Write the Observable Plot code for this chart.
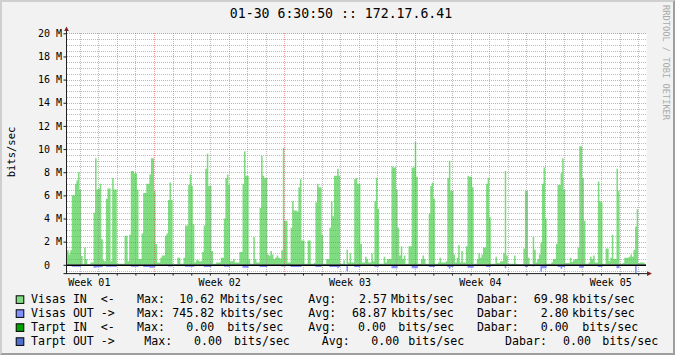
<!DOCTYPE html>
<html>
<head>
<meta charset="utf-8">
<script src="https://cdn.jsdelivr.net/npm/d3@7"></script>
<script src="https://cdn.jsdelivr.net/npm/@observablehq/plot@0.6"></script>
<style>
html, body { margin: 0; padding: 0; background: #f2f2f2; }
#page { position: relative; width: 675px; height: 355px; overflow: hidden; background: #f2f2f2; }
#page svg { position: absolute; left: 0; top: 0; }
#border { position: absolute; left: 0; top: 0; width: 675px; height: 355px; box-sizing: border-box;
  border-style: solid; border-width: 2px; border-color: #cfcfcf #9e9e9e #9e9e9e #cfcfcf; pointer-events: none; }
</style>
</head>
<body>
<div id="page"><div id="border"></div></div>
<script>
// ---- data (Mbits/sec, one value per 2-hour step, starting at day 2.25) ----
const visasIn = [
1.25,1.25,0.9,1.25,6.0,6.0,7.0,7.3,8.0,6.5,0.75,0.1,1.5,0.5,0.05,0.05,0.2,0.2,4.5,9.2,6.5,6.6,7.0,2.2,0.4,
0.3,5.7,6.6,6.6,0.3,7.5,6.5,6.5,0.1,0.1,0.1,0.1,0.1,2.5,2.5,0.3,2.6,8.1,8.1,7.9,7.9,6.5,0.5,0.5,2.7,
6.2,6.2,7.0,7.0,7.8,9.2,9.2,6.4,1.8,0.2,0.2,0.6,0.8,0.8,2.5,2.7,5.6,7.1,5.6,0.05,0.05,0.05,0.6,0.6,0.1,
0.1,0.6,3.4,3.4,6.9,7.8,6.8,3.5,0.2,0.4,0.4,0.3,0.3,1.1,3.4,8.3,9.6,6.8,6.8,1.2,0.1,0.1,0.2,0.2,0.2,
0.6,0.6,4.0,7.5,7.8,6.9,0.3,0.3,0.5,0.2,0.2,0.2,1.1,1.1,7.0,9.8,7.7,7.7,0.5,0.1,0.1,2.4,0.5,0.2,0.2,
4.9,9.4,7.7,7.5,7.5,0.9,0.8,1.2,0.9,0.5,0.6,0.8,0.6,0.55,1.25,10.1,3.8,3.8,0.2,0.2,3.2,5.5,4.7,4.7,4.6,
6.7,7.4,2.1,2.1,0.1,0.1,2.1,2.1,0.1,0.1,0.15,5.4,7.0,6.7,6.7,2.6,0.1,0.1,0.5,0.5,3.2,5.5,4.2,7.7,7.7,
8.3,7.7,0.1,0.1,0.4,0.05,1.3,0.2,1.0,0.2,0.2,7.4,7.5,7.0,7.0,1.8,0.2,0.2,0.7,0.5,0.2,0.2,1.0,0.3,5.5,
7.5,4.85,0.1,0.1,0.1,0.7,0.2,0.5,0.5,0.5,8.5,8.4,8.4,6.5,3.2,0.8,1.6,0.5,0.8,0.1,0.1,1.6,1.6,8.4,8.4,
10.62,7.6,0.1,0.1,0.5,0.8,0.5,0.1,0.1,4.4,6.8,7.1,5.7,0.1,0.1,0.2,0.6,0.2,0.2,0.2,0.3,7.5,9.0,6.4,6.4,
0.9,0.2,0.6,1.7,0.2,1.2,0.2,0.2,1.6,7.7,7.6,7.6,6.7,0.1,0.1,0.5,1.0,0.6,0.9,1.5,1.5,7.0,7.5,4.1,0.1,
0.1,0.1,0.7,0.15,0.15,0.3,0.3,1.0,8.1,0.8,0.1,0.1,0.1,0.1,0.8,0.1,0.05,0.05,0.05,0.05,1.4,6.4,6.4,0.6,0.05,
0.05,2.4,1.3,0.2,0.5,0.9,1.9,7.0,8.4,4.0,0.1,0.1,0.1,0.2,0.5,0.5,1.8,6.9,6.9,7.9,9.2,6.5,0.15,0.15,0.15,
0.6,0.25,0.4,0.5,0.5,1.5,10.25,10.25,7.5,3.8,0.1,0.1,0.2,0.7,0.5,0.8,0.2,0.2,7.2,5.5,5.4,0.1,0.1,1.4,1.4,
0.3,0.6,2.6,0.5,0.5,8.3,6.4,0.1,0.1,0.15,0.6,0.6,0.6,0.7,0.9,0.7,1.3,3.3,4.8,0.15,0.2,0.2,0.2,0.1,0.1
];
const visasOut = [
0.04,0.04,0.04,0.04,0.17,0.17,0.17,0.17,0.17,0.17,0.04,0.04,0.04,0.04,0.04,0.04,0.04,0.04,0.25,0.25,0.22,0.22,0.22,0.2,0.04,
0.04,0.17,0.17,0.17,0.17,0.17,0.17,0.17,0.04,0.04,0.04,0.04,0.04,0.04,0.04,0.04,0.04,0.17,0.17,0.17,0.17,0.17,0.04,0.04,0.04,
0.2,0.2,0.2,0.2,0.25,0.25,0.25,0.2,0.04,0.04,0.04,0.04,0.04,0.04,0.04,0.04,0.15,0.15,0.15,0.04,0.04,0.04,0.04,0.04,0.04,
0.04,0.04,0.17,0.17,0.17,0.17,0.17,0.17,0.04,0.04,0.04,0.04,0.04,0.04,0.2,0.2,0.2,0.2,0.2,0.04,0.04,0.04,0.04,0.04,0.04,
0.04,0.04,0.17,0.17,0.17,0.17,0.04,0.04,0.04,0.04,0.04,0.04,0.04,0.04,0.25,0.25,0.25,0.25,0.04,0.04,0.04,0.04,0.04,0.04,0.04,
0.2,0.2,0.2,0.2,0.2,0.04,0.04,0.04,0.04,0.04,0.04,0.04,0.04,0.04,0.15,0.15,0.15,0.04,0.04,0.04,0.2,0.2,0.2,0.2,0.2,
0.2,0.2,0.04,0.04,0.04,0.04,0.04,0.04,0.04,0.04,0.04,0.2,0.2,0.2,0.2,0.04,0.04,0.04,0.04,0.04,0.2,0.2,0.2,0.2,0.2,
0.3,0.2,0.04,0.04,0.04,0.04,0.55,0.04,0.04,0.04,0.04,0.2,0.2,0.2,0.2,0.04,0.04,0.04,0.04,0.04,0.04,0.04,0.04,0.04,0.17,
0.17,0.17,0.04,0.04,0.04,0.04,0.04,0.04,0.04,0.04,0.3,0.3,0.3,0.3,0.04,0.04,0.04,0.04,0.04,0.04,0.04,0.04,0.04,0.3,0.3,
0.3,0.3,0.04,0.04,0.04,0.04,0.04,0.04,0.04,0.2,0.2,0.2,0.2,0.04,0.04,0.04,0.04,0.04,0.04,0.04,0.04,0.2,0.35,0.2,0.2,
0.04,0.04,0.04,0.04,0.04,0.04,0.04,0.04,0.04,0.25,0.25,0.25,0.25,0.04,0.04,0.04,0.04,0.04,0.04,0.04,0.04,0.2,0.2,0.2,0.04,
0.04,0.04,0.04,0.04,0.04,0.04,0.04,0.04,0.3,0.04,0.04,0.04,0.04,0.04,0.04,0.04,0.04,0.04,0.04,0.04,0.04,0.2,0.2,0.04,0.04,
0.04,0.15,0.04,0.04,0.04,0.04,0.6,0.3,0.3,0.3,0.04,0.04,0.04,0.04,0.04,0.04,0.04,0.2,0.2,0.35,0.2,0.2,0.04,0.04,0.04,
0.04,0.04,0.04,0.04,0.04,0.04,0.25,0.25,0.25,0.04,0.04,0.04,0.04,0.04,0.04,0.04,0.04,0.04,0.2,0.2,0.2,0.04,0.04,0.04,0.04,
0.04,0.04,0.04,0.04,0.04,0.3,0.3,0.04,0.04,0.04,0.04,0.04,0.04,0.04,0.04,0.04,0.04,0.746,0.04,0.04,0.04,0.04,0.04,0.04,0.04
];
const startDay = 2.25;          // first sample (days since Monday of week 01)
const stepDay = 1 / 12;         // 2-hour consolidation step
const weekStarts = [0, 7, 14, 21, 28];
const weekLabels = ["Week 01", "Week 02", "Week 03", "Week 04", "Week 05"];
const dayTicks = [3,4,5,6,7,8,9,10,11,12,13,14,15,16,17,18,19,20,21,22,23,24,25,26,27,28,29,30,31,32,33];
const yMajor = [0, 2, 4, 6, 8, 10, 12, 14, 16, 18, 20];
const yMinor = [-0.5,0.5,1,1.5,2.5,3,3.5,4.5,5,5.5,6.5,7,7.5,8.5,9,9.5,10.5,11,11.5,12.5,13,13.5,14.5,15,15.5,16.5,17,17.5,18.5,19,19.5];

const title = "01-30 6:30:50 :: 172.17.6.41";
const yTitle = "bits/sec";
const watermark = "RRDTOOL / TOBI OETIKER";

const legendNames = ["Visas IN  <-", "Visas OUT ->", "Tarpt IN  <-", "Tarpt OUT ->"];
const legendMax = ["10.62", "745.82", "0.00", "0.00"];
const legendMaxUnit = ["Mbits/sec", "kbits/sec", "bits/sec", "bits/sec"];
const legendAvg = ["2.57", "68.87", "0.00", "0.00"];
const legendAvgUnit = ["Mbits/sec", "kbits/sec", "bits/sec", "bits/sec"];
const legendDabar = ["69.98", "2.80", "0.00", "0.00"];
const legendDabarUnit = ["kbits/sec", "kbits/sec", "bits/sec", "bits/sec"];
const legendColors = ["#80dc80", "#8090ff", "#00a000", "#5070d0"];

// ---- tables for the library ----
const inRows = visasIn.map((v, i) => ({t: startDay + i * stepDay, v}));
inRows.push({t: startDay + visasIn.length * stepDay, v: visasIn[visasIn.length - 1]});
const outRows = visasOut.map((v, i) => ({t: startDay + i * stepDay, v: -v}));
outRows.push({t: startDay + visasOut.length * stepDay, v: -visasOut[visasOut.length - 1]});
const weekMids = weekStarts.map(d => d + 3.5);
const dayMinor = dayTicks.filter(d => !weekStarts.includes(d));
const weekMajor = weekStarts.filter(d => d >= 3);

const gridGray = "rgba(143,143,143,0.6)";
const gridRed = "rgba(222,79,79,0.55)";
const gridOpts = {strokeOpacity: 1, strokeDasharray: "1,1", shapeRendering: "crispEdges"};

const chart = Plot.plot({
  width: 675,
  height: 355,
  marginLeft: 66.5,
  marginRight: 29,
  marginTop: 33.3,
  marginBottom: 81.4,
  style: {background: "transparent", fontFamily: "DejaVu Sans Mono", fontSize: "10px", color: "#000", overflow: "visible"},
  x: {domain: [2.30, 33.42], label: null},
  y: {domain: [-0.76, 20], label: null},
  marks: [
    Plot.frame({fill: "white", stroke: "none"}),
    Plot.areaY(inRows, {x: "t", y: "v", curve: "step-after", fill: "#80dc80", clip: true}),
    Plot.areaY(outRows, {x: "t", y: "v", curve: "step-after", fill: "#8090ff", clip: true}),
    Plot.gridY(yMinor, {stroke: gridGray, ...gridOpts}),
    Plot.gridX(dayMinor, {stroke: gridGray, ...gridOpts}),
    Plot.gridY(yMajor.filter(d => d !== 0), {stroke: gridRed, ...gridOpts}),
    Plot.gridX(weekMajor, {stroke: gridRed, ...gridOpts}),
    Plot.ruleY([0], {stroke: "#000", strokeWidth: 1.5}),
    Plot.axisY(yMajor, {anchor: "left", tickSize: 3, tickPadding: 2, stroke: "#1f1f1f", fontSize: 10, label: null,
      tickFormat: d => d === 0 ? "0\u00a0\u00a0" : d + " M"}),
    Plot.axisX(dayTicks, {anchor: "bottom", tickSize: 2, tickPadding: 0, stroke: "#1f1f1f", label: null, tickFormat: () => ""}),
    Plot.axisX(weekMids, {anchor: "bottom", tickSize: 0, tickPadding: 4.3, fontSize: 10, label: null,
      tickFormat: d => weekLabels[weekMids.indexOf(d)]})
  ]
});

document.getElementById("page").insertBefore(chart, document.getElementById("border"));

// ---- axes lines, arrows, title, legend (positions from the plot's scales) ----
const svg = d3.select(chart);
const sx = chart.scale("x"), sy = chart.scale("y");
const pLeft = sx.range[0], pRight = sx.range[1];
const pBottom = sy.range[0], pTop = sy.range[1];
const g = svg.append("g").attr("font-family", "DejaVu Sans Mono").attr("text-anchor", "start");

g.append("line").attr("x1", pLeft).attr("x2", pLeft).attr("y1", pBottom + 0.5).attr("y2", pTop - 5)
  .attr("stroke", "#1f1f1f").attr("stroke-width", 1);
g.append("line").attr("x1", pLeft - 3).attr("x2", pRight + 4).attr("y1", pBottom).attr("y2", pBottom)
  .attr("stroke", "#1f1f1f").attr("stroke-width", 1);
g.append("path").attr("d", `M${pLeft - 2.3},${pTop - 2.3}L${pLeft + 2.3},${pTop - 2.3}L${pLeft},${pTop - 6.8}Z`).attr("fill", "#7f1f1f");
g.append("path").attr("d", `M${pRight + 1},${pBottom - 2.3}L${pRight + 1},${pBottom + 2.3}L${pRight + 6},${pBottom}Z`).attr("fill", "#7f1f1f");

g.append("text").attr("x", 341).attr("y", 18.3).attr("text-anchor", "middle").attr("font-size", 13.2)
  .attr("fill", "#000").text(title);
g.append("text").attr("transform", "translate(14.5,152) rotate(-90)").attr("text-anchor", "middle")
  .attr("font-size", 10.5).attr("fill", "#000").text(yTitle);
g.append("text").attr("transform", "translate(663,5) rotate(90)").attr("text-anchor", "start")
  .attr("font-size", 8.7).attr("fill", "#aaaaaa").text(watermark);

// legend columns: [Max label x, max value end x, unit x, Avg x, avg end x, unit x, Dabar x, dabar end x, unit x]
const colsStd = [137, 214.2, 220.3, 308.2, 387, 391, 476.9, 568.6, 572];
const colsRow = [colsStd, colsStd,
  [137, 214.2, 227.3, 308.2, 386, 398.3, 476.9, 568.6, 582.3],
  [144.2, 221.9, 234, 321.7, 399.2, 408.3, 505.1, 590.9, 602.3]];
legendNames.forEach((name, i) => {
  const base = 303 + i * 14;
  const c = colsRow[i];
  const row = g.append("g").attr("font-size", 11.6).attr("fill", "#000").attr("text-anchor", "start");
  row.append("rect").attr("x", 16.2).attr("y", base - 7.2).attr("width", 7.6).attr("height", 7.6)
    .attr("fill", legendColors[i]).attr("stroke", "#000").attr("stroke-width", 1);
  row.append("text").attr("x", 31).attr("y", base).attr("xml:space", "preserve").style("white-space", "pre").text(name);
  row.append("text").attr("x", c[0]).attr("y", base).text("Max:");
  row.append("text").attr("x", c[1]).attr("y", base).attr("text-anchor", "end").text(legendMax[i]);
  row.append("text").attr("x", c[2]).attr("y", base).text(legendMaxUnit[i]);
  row.append("text").attr("x", c[3]).attr("y", base).text("Avg:");
  row.append("text").attr("x", c[4]).attr("y", base).attr("text-anchor", "end").text(legendAvg[i]);
  row.append("text").attr("x", c[5]).attr("y", base).text(legendAvgUnit[i]);
  row.append("text").attr("x", c[6]).attr("y", base).text("Dabar:");
  row.append("text").attr("x", c[7]).attr("y", base).attr("text-anchor", "end").text(legendDabar[i]);
  row.append("text").attr("x", c[8]).attr("y", base).text(legendDabarUnit[i]);
});
</script>
</body>
</html>
